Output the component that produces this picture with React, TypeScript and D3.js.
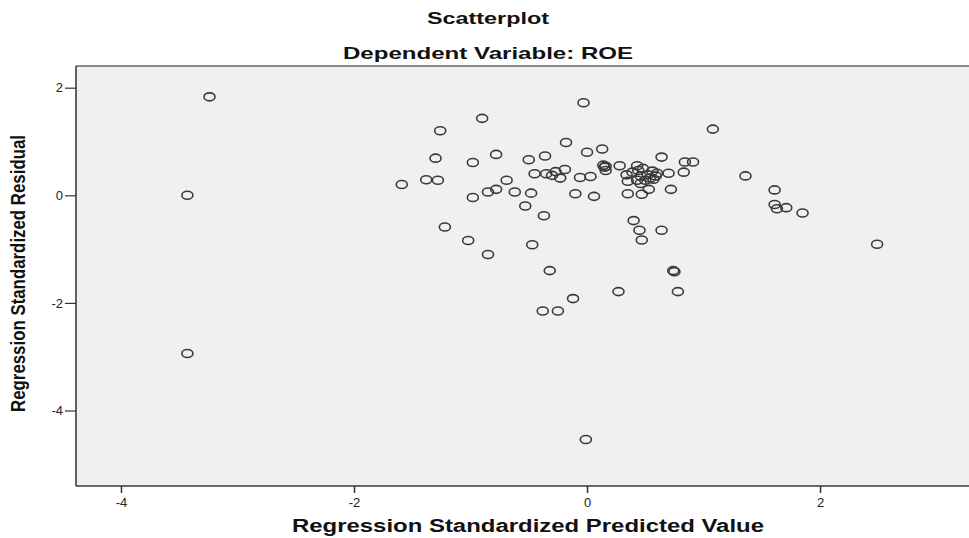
import React, { useEffect, useMemo, useRef } from "react";
import * as d3 from "d3";

const WIDTH = 969;
const HEIGHT = 538;
// plot frame (right side runs off the picture, like the original)
const PLOT = { left: 76, top: 66, right: 975, bottom: 486 };

const X_DOMAIN = [-4.386, 3.33];
const Y_DOMAIN = [-5.403, 2.403];
const xTicks = [-4, -2, 0, 2];
const yTicks = [2, 0, -2, -4];

const title = "Scatterplot";
const subtitle = "Dependent Variable: ROE";
const xLabel = "Regression Standardized Predicted Value";
const yLabel = "Regression Standardized Residual";

// Regression Standardized Predicted Value
const predicted = [
  -3.24, -3.43, -3.43, -1.59, -0.03, -0.9, -1.26, 1.08, -0.18, 0.0,
  0.13, -1.3, -0.98, -0.78, -0.5, -0.36, 0.64, 0.84, 0.91, -1.38,
  -1.28, -0.69, -0.98, -0.85, -0.78, -0.62, -0.48, -0.53, -0.37, -0.45,
  -0.35, -0.3, -0.27, -0.23, -0.19, -0.06, 0.03, -0.1, 0.06, 0.14,
  0.16, 0.16, 0.28, 0.34, 0.35, 0.43, 0.44, 0.56, 0.59, 0.57,
  0.43, 0.46, 0.53, 0.7, 0.83, 0.72, 0.35, 0.47, 0.4, 0.45,
  0.47, 0.64, -1.22, -1.02, -0.47, -0.85, -0.32, 0.74, 0.75, 0.27,
  0.78, -0.12, -0.38, -0.25, -0.01, 1.36, 1.61, 1.61, 1.63, 1.71,
  1.85, 2.49, 0.48, 0.52, 0.6, 0.46, 0.5, 0.39, 0.54, 0.15,
];

// Regression Standardized Residual
const residual = [
  1.83, 0.0, -2.94, 0.2, 1.72, 1.43, 1.2, 1.23, 0.98, 0.8,
  0.86, 0.69, 0.61, 0.76, 0.66, 0.73, 0.71, 0.62, 0.62, 0.29,
  0.28, 0.28, -0.04, 0.06, 0.11, 0.06, 0.04, -0.2, -0.38, 0.4,
  0.4, 0.37, 0.44, 0.32, 0.48, 0.33, 0.35, 0.03, -0.02, 0.56,
  0.54, 0.46, 0.55, 0.38, 0.26, 0.55, 0.46, 0.45, 0.36, 0.3,
  0.28, 0.22, 0.11, 0.41, 0.43, 0.11, 0.03, 0.02, -0.47, -0.65,
  -0.83, -0.65, -0.59, -0.84, -0.92, -1.1, -1.4, -1.4, -1.42, -1.79,
  -1.79, -1.92, -2.15, -2.15, -4.54, 0.36, 0.1, -0.17, -0.25, -0.23,
  -0.33, -0.91, 0.5, 0.38, 0.41, 0.36, 0.28, 0.43, 0.32, 0.52,
];

const FONT = "'Liberation Sans', Arial, sans-serif";

export default function App() {
  const xAxisRef = useRef<SVGGElement>(null);
  const yAxisRef = useRef<SVGGElement>(null);

  const xScale = useMemo(
    () => d3.scaleLinear().domain(X_DOMAIN).range([PLOT.left, PLOT.right]),
    []
  );
  const yScale = useMemo(
    () => d3.scaleLinear().domain(Y_DOMAIN).range([PLOT.bottom, PLOT.top]),
    []
  );

  useEffect(() => {
    // plain hyphen for negatives, as SPSS prints them
    const fmt = (d: d3.NumberValue) => String(d);

    const gx = d3.select(xAxisRef.current);
    gx.selectAll("*").remove();
    gx.call(d3.axisBottom(xScale).tickValues(xTicks).tickSize(7).tickPadding(5).tickFormat(fmt));
    gx.select(".domain").remove();
    gx.selectAll(".tick line").attr("stroke", "#333").attr("stroke-width", 1.5);
    gx.selectAll(".tick text")
      .attr("font-family", FONT)
      .attr("font-size", 13)
      .attr("fill", "#222");

    const gy = d3.select(yAxisRef.current);
    gy.selectAll("*").remove();
    gy.call(d3.axisLeft(yScale).tickValues(yTicks).tickSize(11).tickPadding(2).tickFormat(fmt));
    gy.select(".domain").remove();
    gy.selectAll(".tick line").attr("stroke", "#333").attr("stroke-width", 1.2);
    gy.selectAll(".tick text")
      .attr("font-family", FONT)
      .attr("font-size", 13)
      .attr("fill", "#222");
  }, [xScale, yScale]);

  const points = predicted.map((p, i) => (
    <ellipse
      key={i}
      cx={xScale(p)}
      cy={yScale(residual[i])}
      rx={5.5}
      ry={4}
      fill="none"
      stroke="#3a3a3a"
      strokeWidth={1.6}
    />
  ));

  return (
    <svg
      width={WIDTH}
      height={HEIGHT}
      style={{ position: "absolute", left: 0, top: 0, background: "#fff" }}
    >
      <text
        x={488}
        y={24}
        textAnchor="middle"
        fontFamily={FONT}
        fontWeight="bold"
        fontSize={16}
        textLength={122}
        lengthAdjust="spacingAndGlyphs"
        fill="#111"
      >
        {title}
      </text>
      <text
        x={488}
        y={59}
        textAnchor="middle"
        fontFamily={FONT}
        fontWeight="bold"
        fontSize={17}
        textLength={290}
        lengthAdjust="spacingAndGlyphs"
        fill="#111"
      >
        {subtitle}
      </text>

      <rect
        x={PLOT.left}
        y={PLOT.top}
        width={PLOT.right - PLOT.left}
        height={PLOT.bottom - PLOT.top}
        fill="#f0f0f0"
      />
      <line x1={PLOT.left} x2={PLOT.right} y1={PLOT.top} y2={PLOT.top} stroke="#8a8a8a" strokeWidth={2} />
      <line x1={PLOT.left} x2={PLOT.left} y1={PLOT.top} y2={PLOT.bottom} stroke="#3a3a3a" strokeWidth={1.6} />
      <line x1={PLOT.left} x2={PLOT.right} y1={PLOT.bottom} y2={PLOT.bottom} stroke="#3a3a3a" strokeWidth={1.6} />

      <g>{points}</g>

      <g ref={xAxisRef} transform={`translate(0,${PLOT.bottom})`} />
      <g ref={yAxisRef} transform={`translate(${PLOT.left},0)`} />

      <text
        x={528}
        y={532}
        textAnchor="middle"
        fontFamily={FONT}
        fontWeight="bold"
        fontSize={18}
        textLength={472}
        lengthAdjust="spacingAndGlyphs"
        fill="#111"
      >
        {xLabel}
      </text>
      <text
        transform="translate(25,273.5) scale(1.3,1) rotate(-90)"
        textAnchor="middle"
        fontFamily={FONT}
        fontWeight="bold"
        fontSize={15}
        textLength={277}
        lengthAdjust="spacingAndGlyphs"
        fill="#111"
      >
        {yLabel}
      </text>
    </svg>
  );
}
